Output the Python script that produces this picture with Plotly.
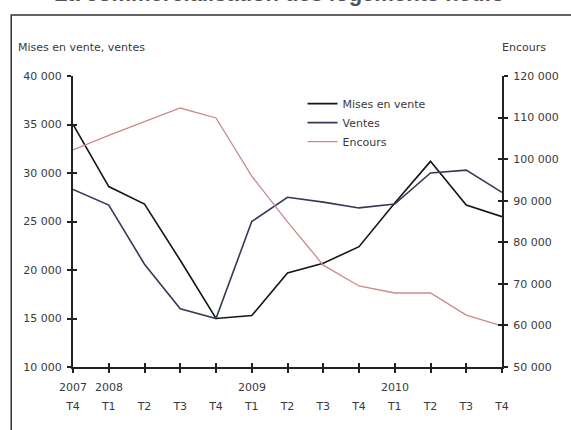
import plotly.graph_objects as go

# Quarterly observations, 2007 T4 to 2010 T4
quarters = ["2007 T4", "2008 T1", "2008 T2", "2008 T3", "2008 T4",
            "2009 T1", "2009 T2", "2009 T3", "2009 T4",
            "2010 T1", "2010 T2", "2010 T3", "2010 T4"]
quarter_labels = ["T4", "T1", "T2", "T3", "T4", "T1", "T2", "T3", "T4",
                  "T1", "T2", "T3", "T4"]
year_labels = {"2007 T4": "2007", "2008 T1": "2008",
               "2009 T1": "2009", "2010 T1": "2010"}

mises_en_vente = [35000, 28600, 26800, 21000, 15000,
                  15300, 19700, 20700, 22400,
                  26900, 31200, 26700, 25500]
ventes = [28300, 26700, 20600, 16000, 15000,
          25000, 27500, 27000, 26400,
          26800, 30000, 30300, 28000]
encours = [102200, 105700, 109000, 112300, 109900,
           95900, 84900, 74500, 69500,
           67800, 67800, 62500, 59900]

left_ticks = [10000, 15000, 20000, 25000, 30000, 35000, 40000]
right_ticks = [50000, 60000, 70000, 80000, 90000, 100000, 110000, 120000]


def fmt(v):
    return f"{v:,}".replace(",", " ")


FONT = "DejaVu Sans, Verdana, sans-serif"
AXIS = "#222222"
TXT = "#3a3a3a"
FS = 11

fig = go.Figure()
fig.add_trace(go.Scatter(x=quarters, y=mises_en_vente, name="Mises en vente",
                         mode="lines", line=dict(color="#151515", width=1.6)))
fig.add_trace(go.Scatter(x=quarters, y=ventes, name="Ventes",
                         mode="lines", line=dict(color="#333a55", width=1.6)))
fig.add_trace(go.Scatter(x=quarters, y=encours, name="Encours", yaxis="y2",
                         mode="lines", line=dict(color="#c98a8a", width=1.3)))

common = dict(showgrid=False, zeroline=False, showline=True, linecolor=AXIS,
              linewidth=2, ticks="outside", ticklen=4, tickwidth=2, tickcolor=AXIS,
              tickfont=dict(family=FONT, size=FS, color=TXT))

fig.update_layout(
    width=571, height=430,
    margin=dict(l=73, r=67, t=76, b=63),
    paper_bgcolor="white", plot_bgcolor="white",
    font=dict(family=FONT, size=FS, color=TXT),
    showlegend=True,
    legend=dict(x=0.535, y=0.955, xanchor="left", yanchor="top",
                bgcolor="rgba(0,0,0,0)", font=dict(family=FONT, size=FS, color=TXT),
                tracegroupgap=0, itemwidth=30),
    xaxis=dict(type="category", categoryorder="array", categoryarray=quarters,
               range=[0, len(quarters) - 1], tickmode="array", tickvals=quarters,
               ticktext=quarter_labels, ticklabelstandoff=24, **common),
    yaxis=dict(range=[10000, 40000], tickvals=left_ticks,
               ticktext=[fmt(v) for v in left_ticks], ticklabelstandoff=3, **common),
    yaxis2=dict(range=[50000, 120000], overlaying="y", side="right",
                tickvals=right_ticks, ticktext=[fmt(v) for v in right_ticks],
                ticklabelstandoff=3, **common),
    # inner halves of the crossing tick marks
    xaxis2=dict(overlaying="x", type="category", categoryorder="array",
                categoryarray=quarters, range=[0, len(quarters) - 1],
                tickmode="array", tickvals=quarters, side="bottom", anchor="y",
                showgrid=False, zeroline=False, showline=False, ticks="inside",
                ticklen=4, tickwidth=2, tickcolor=AXIS, showticklabels=False),
    yaxis3=dict(overlaying="y", side="left", range=[10000, 40000], tickvals=left_ticks,
                showgrid=False, zeroline=False, showline=False, ticks="inside",
                ticklen=4, tickwidth=2, tickcolor=AXIS, showticklabels=False),
    yaxis4=dict(overlaying="y", side="right", range=[50000, 120000], tickvals=right_ticks,
                showgrid=False, zeroline=False, showline=False, ticks="inside",
                ticklen=4, tickwidth=2, tickcolor=AXIS, showticklabels=False),
)

# invisible traces so the overlay axes are drawn
fig.add_trace(go.Scatter(x=[quarters[0]], y=[None], xaxis="x2", yaxis="y3",
                         showlegend=False, hoverinfo="skip"))
fig.add_trace(go.Scatter(x=[quarters[0]], y=[None], xaxis="x2", yaxis="y4",
                         showlegend=False, hoverinfo="skip"))

# year labels above the first quarter of each year
for q, yr in year_labels.items():
    fig.add_annotation(text=yr, x=q, xref="x", yref="paper", y=-0.069,
                       xanchor="center", yanchor="middle", showarrow=False,
                       font=dict(family=FONT, size=FS, color=TXT))

# axis titles above each scale
fig.add_annotation(text="Mises en vente, ventes", xref="paper", yref="paper",
                   x=-0.133, y=1.098, xanchor="left", yanchor="middle",
                   showarrow=False, font=dict(family=FONT, size=FS, color=TXT))
fig.add_annotation(text="Encours", xref="paper", yref="paper",
                   x=0.995, y=1.098, xanchor="left", yanchor="middle",
                   showarrow=False, font=dict(family=FONT, size=FS, color=TXT))

# heading of the page, mostly above the visible area
fig.add_annotation(text="<b>La commercialisation des logements neufs</b>",
                   xref="paper", yref="paper", x=0.48, y=1.233,
                   xanchor="center", yanchor="bottom", showarrow=False,
                   font=dict(family="Liberation Sans, Arial, sans-serif", size=22,
                             color="#555555"))

# surrounding frame
fig.add_shape(type="rect", xref="paper", yref="paper",
              x0=-0.144, y0=-0.25, x1=1.2, y1=1.21,
              line=dict(color="#333333", width=1.5), layer="below")

fig.write_html("out.html")
